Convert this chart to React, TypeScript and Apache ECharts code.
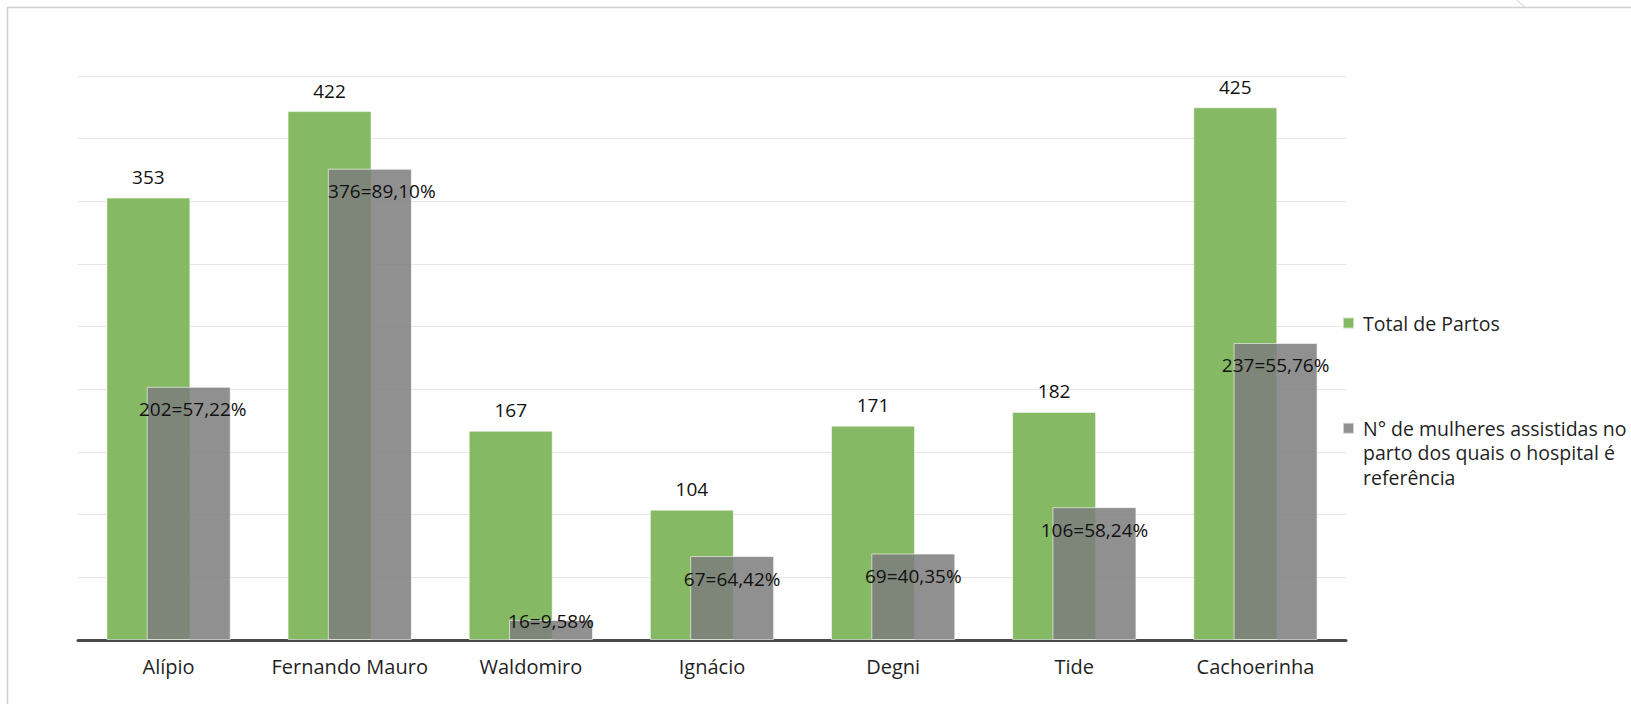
import React, { useEffect, useRef } from "react";
import * as echarts from "echarts";

const categories = ["Alípio", "Fernando Mauro", "Waldomiro", "Ignácio", "Degni", "Tide", "Cachoerinha"];
const totalPartos = [353, 422, 167, 104, 171, 182, 425];
const assistidas = [202, 376, 16, 67, 69, 106, 237];
const percentuais = ["57,22%", "89,10%", "9,58%", "64,42%", "40,35%", "58,24%", "55,76%"];
const seriesNames = ["Total de Partos", "N° de mulheres assistidas no\nparto dos quais o hospital é\nreferência"];

const FONT = "'Open Sans', 'Noto Sans', sans-serif";

// legend icon: an 11x11 square placed beside the first text line of a 3-line label
const TALL_ICON = "path://M0,0 M0,6.75 L11,6.75 L11,17.75 L0,17.75 Z M11,73.5";

export default function App() {
  const ref = useRef<HTMLDivElement>(null);
  useEffect(() => {
    document.body.style.margin = "0";
    if (!ref.current) return;
    const chart = echarts.init(ref.current, undefined, { renderer: "svg" });
    const grayData = assistidas.map((v, i) => {
      if (i === 2) return { value: v, label: { position: "insideTop", distance: -8 } };
      if (i === 1) return { value: v, label: { offset: [12, 0] } };
      if (i === 0) return { value: v, label: { offset: [4, 0] } };
      return { value: v };
    });
    chart.setOption({
      animation: false,
      backgroundColor: "#ffffff",
      textStyle: { fontFamily: FONT },
      grid: { left: 78, right: 285, top: 76, bottom: 64, containLabel: false },
      xAxis: {
        type: "category",
        data: categories,
        axisLine: { lineStyle: { color: "#4a4a4a", width: 3 } },
        axisTick: { show: false },
        axisLabel: { color: "#1f1f1f", fontSize: 20, fontFamily: FONT, margin: 16, interval: 0 },
      },
      yAxis: {
        type: "value",
        min: 0,
        max: 450,
        interval: 50,
        axisLabel: { show: false },
        axisLine: { show: false },
        axisTick: { show: false },
        splitLine: { lineStyle: { color: "#e6e6e6", width: 1 } },
      },
      legend: [
        {
          data: [seriesNames[0]],
          orient: "vertical",
          left: 1342,
          top: 313,
          padding: 0,
          itemWidth: 11,
          itemHeight: 11,
          icon: "rect",
          selectedMode: false,
          textStyle: { fontSize: 19.5, color: "#1f1f1f", fontFamily: FONT, padding: [0, 0, 0, 4] },
        },
        {
          data: [seriesNames[1]],
          orient: "vertical",
          left: 1342,
          top: 415,
          padding: 0,
          itemWidth: 11,
          itemHeight: 73.5,
          icon: TALL_ICON,
          selectedMode: false,
          textStyle: {
            fontSize: 19.5,
            color: "#1f1f1f",
            fontFamily: FONT,
            lineHeight: 24.5,
            padding: [0, 0, 0, 4],
          },
        },
      ],
      graphic: [
        {
          type: "rect",
          shape: { x: 7.5, y: 7.5, width: 1800, height: 900 },
          style: { fill: "none", stroke: "#d0d0d0", lineWidth: 1.5 },
          silent: true,
        },
        {
          type: "line",
          shape: { x1: 1517, y1: 0, x2: 1525, y2: 7 },
          style: { stroke: "#e0e0e0", lineWidth: 1.5 },
          silent: true,
        },
      ],
      series: [
        {
          name: seriesNames[0],
          type: "bar",
          data: totalPartos,
          barWidth: 84,
          barGap: "-52%",
          itemStyle: { color: "#86b964", borderColor: "rgba(255,255,255,0.55)", borderWidth: 1 },
          label: {
            show: true,
            position: "top",
            distance: 11,
            color: "#111111",
            fontSize: 19,
            fontFamily: FONT,
          },
        },
        {
          name: seriesNames[1],
          type: "bar",
          data: grayData,
          barWidth: 84,
          itemStyle: { color: "rgba(125,125,125,0.85)", borderColor: "rgba(255,255,255,0.6)", borderWidth: 1 },
          label: {
            show: true,
            position: "insideTop",
            distance: 13,
            color: "#111111",
            fontSize: 19,
            fontFamily: FONT,
            formatter: (p: any) => `${p.value}=${percentuais[p.dataIndex]}`,
          },
        },
      ],
    });
    return () => chart.dispose();
  }, []);
  return (
    <div
      ref={ref}
      style={{ position: "fixed", left: 0, top: 0, width: 1631, height: 704 }}
    />
  );
}
